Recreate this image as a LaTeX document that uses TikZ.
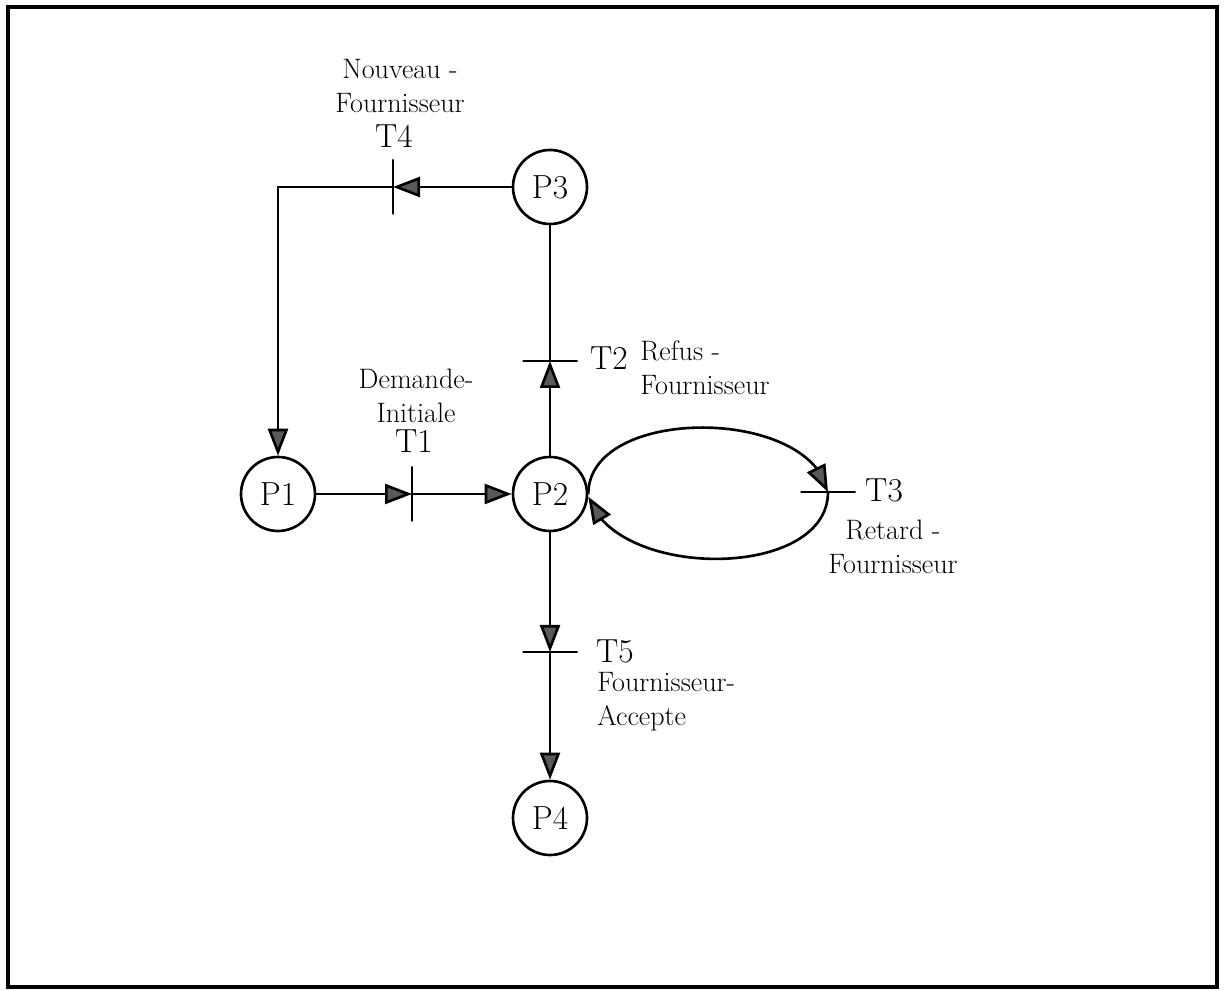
\documentclass[tikz,border=0pt]{standalone}
\usepackage{fontspec}
\usetikzlibrary{arrows.meta,bending}

\begin{document}
\begin{tikzpicture}
  [place/.style={circle,draw=black,line width=1.5pt,minimum size=1.48cm,inner sep=0pt,font=\fontsize{19}{22}\selectfont},
   vbar/.style={draw=black,line width=1.5pt,rectangle,minimum width=0pt,minimum height=1.1cm,inner sep=0pt,outer sep=0pt},
   hbar/.style={draw=black,line width=1.5pt,rectangle,minimum height=0pt,minimum width=1.1cm,inner sep=0pt,outer sep=0pt},
   lbl/.style={font=\fontsize{19}{22}\selectfont,anchor=base,inner sep=0pt},
   desc/.style={font=\fontsize{16}{19.5}\selectfont,inner sep=0pt},
   arr/.style={line width=1.5pt,-{Triangle[length=5.4mm,width=4mm,fill=black!65]}}]
  \useasboundingbox (0,0) rectangle (24.54,19.8);
  \draw[line width=2.2pt] (0.16,0.06) rectangle (24.34,19.66);

  \node[place] (p1) at (5.56,9.92) {P1};
  \node[place] (p2) at (11,9.92) {P2};
  \node[place] (p3) at (11,16.06) {P3};
  \node[place] (p4) at (11,3.44) {P4};

  \node[vbar] (t4) at (7.86,16.06) {};
  \node[vbar] (t1) at (8.24,9.92) {};
  \node[hbar] (t2) at (11,12.58) {};
  \node[hbar] (t3) at (16.56,9.96) {};
  \node[hbar] (t5) at (11,6.76) {};

  \node[desc,align=center] (d4) at (8.0,18.08) {Nouveau -\\Fournisseur};
  \node[lbl] (l4) at (7.88,16.84) {T4};
  \node[desc,align=center] (d1) at (8.32,11.88) {Demande-\\Initiale};
  \node[lbl] (l1) at (8.28,10.74) {T1};
  \node[lbl] (l2) at (12.18,12.4) {T2};
  \node[desc,align=left,anchor=west] (d2) at (12.8,12.45) {Refus -\\Fournisseur};
  \node[lbl] (l3) at (17.68,9.76) {T3};
  \node[desc,align=center] (d3) at (17.86,8.86) {Retard -\\Fournisseur};
  \node[lbl] (l5) at (12.3,6.54) {T5};
  \node[desc,align=left,anchor=west] (d5) at (11.94,5.76) {Fournisseur-\\Accepte};

  \foreach \from/\to in {p1/t1, t1/p2, p3/t4, p2/t2, p2/t5, t5/p4}
    \draw[arr] (\from) -- (\to);
  \draw[arr] (t4) -| (p1);
  \draw[line width=1.5pt] (t2) -- (p3);
  \draw[arr] (p2.east) to[out=90,in=102,looseness=0.94] (t3.north);
  \draw[arr] (t3.south) to[out=-90,in=-72,looseness=0.94] (p2.-4);
\end{tikzpicture}
\end{document}
